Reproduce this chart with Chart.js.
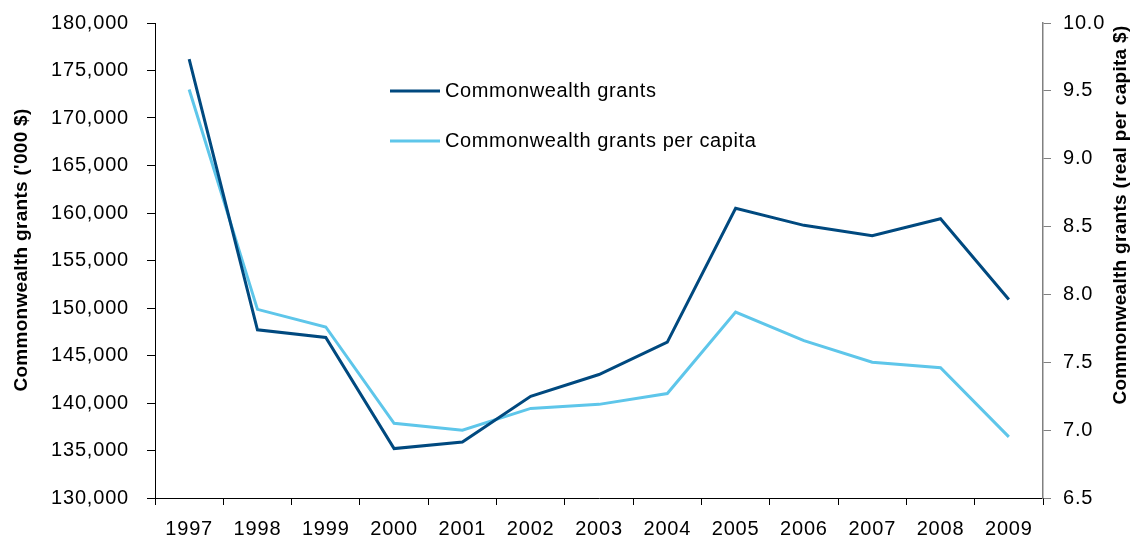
<!DOCTYPE html>
<html>
<head>
<meta charset="utf-8">
<script src="https://cdn.jsdelivr.net/npm/chart.js@4"></script>
<style>
  body { margin: 0; background: #fff; }
  #wrap { width: 1147px; height: 543px; position: relative; }
</style>
</head>
<body>
<div id="wrap"><canvas id="grantsChart"></canvas></div>
<script>
const years = ['1997', '1998', '1999', '2000', '2001', '2002', '2003', '2004', '2005', '2006', '2007', '2008', '2009']
// '000 $
const grants = [176200, 147700, 146900, 135200, 135900, 140700, 143000, 146400, 160500, 158700, 157600, 159400, 150900]
// real per capita $
const grantsPerCapita = [9.51, 7.89, 7.76, 7.05, 7.00, 7.16, 7.19, 7.27, 7.87, 7.66, 7.50, 7.46, 6.95]

const seriesNames = ['Commonwealth grants', 'Commonwealth grants per capita']
const leftTitle = "Commonwealth grants ('000 $)"
const rightTitle = 'Commonwealth grants (real per capita $)'

const darkBlue = '#00497f'
const lightBlue = '#5ec6ea'
const fontFamily = '"Liberation Sans", Arial, sans-serif'

// text in this chart is a touch wider than plain Arial
// (set every draw, the canvas state gets reset on resize)
const spacing = {
    id: 'spacing',
    beforeDraw(chart) {
        chart.ctx.letterSpacing = '0.8px'
    }
}

// legend sits inside the plot area
const innerLegend = {
    id: 'innerLegend',
    afterDatasetsDraw(chart) {
        const ctx = chart.ctx
        const colors = [darkBlue, lightBlue]
        ctx.save()
        ctx.font = '20px ' + fontFamily
        ctx.letterSpacing = '0.6px'
        ctx.textBaseline = 'middle'
        ctx.fillStyle = '#000'
        seriesNames.forEach((name, i) => {
            const y = 91 + i * 50
            ctx.strokeStyle = colors[i]
            ctx.lineWidth = 3
            ctx.beginPath()
            ctx.moveTo(390, y)
            ctx.lineTo(440, y)
            ctx.stroke()
            ctx.fillText(name, 445, y)
        })
        ctx.restore()
    }
}

// both axis titles read bottom to top
const axisTitles = {
    id: 'axisTitles',
    afterDraw(chart) {
        const ctx = chart.ctx
        ctx.save()
        ctx.font = 'bold 19px ' + fontFamily
        ctx.letterSpacing = '0.3px'
        ctx.fillStyle = '#000'
        ctx.textAlign = 'center'
        ctx.textBaseline = 'middle'

        ctx.save()
        ctx.translate(22, 250)
        ctx.rotate(-Math.PI / 2)
        ctx.fillText(leftTitle, 0, 0)
        ctx.restore()

        ctx.save()
        ctx.translate(1121, 215)
        ctx.rotate(-Math.PI / 2)
        ctx.fillText(rightTitle, 0, 0)
        ctx.restore()

        ctx.restore()
    }
}

const tickFont = { family: fontFamily, size: 20 }

// fixed widths for the value axes, and no extra room for their end labels
const fixWidth = (w) => (scale) => {
    scale.width = w
    scale.paddingTop = 0
    scale.paddingBottom = 0
}

new Chart(document.querySelector('#grantsChart'), {
    type: 'line',
    data: {
        labels: years,
        datasets: [{
            label: seriesNames[0],
            data: grants,
            yAxisID: 'y',
            borderColor: darkBlue,
            borderWidth: 3,
            pointRadius: 0,
            tension: 0,
        }, {
            label: seriesNames[1],
            data: grantsPerCapita,
            yAxisID: 'y1',
            borderColor: lightBlue,
            borderWidth: 3,
            pointRadius: 0,
            tension: 0,
        }]
    },
    options: {
        responsive: true,
        maintainAspectRatio: false,
        animation: false,
        layout: { padding: { top: 23, left: 0, right: 0, bottom: 0 } },
        plugins: {
            legend: { display: false },
            tooltip: { enabled: false },
        },
        scales: {
            x: {
                offset: true,
                grid: { offset: true, drawOnChartArea: false, tickLength: 7, color: '#000' },
                border: { color: '#000', width: 1 },
                ticks: { color: '#000', font: tickFont, padding: 12, maxRotation: 0 },
                afterFit: (scale) => { scale.height = 45 },
            },
            y: {
                position: 'left',
                min: 130000,
                max: 180000,
                grid: { drawOnChartArea: false, tickLength: 8, color: '#000' },
                border: { color: '#000', width: 1 },
                ticks: {
                    stepSize: 5000,
                    color: '#000',
                    font: tickFont,
                    padding: 18,
                    callback: (v) => v.toLocaleString('en-US'),
                },
                afterFit: fixWidth(155),
            },
            y1: {
                position: 'right',
                min: 6.5,
                max: 10,
                grid: { drawOnChartArea: false, tickLength: 8, color: '#808080' },
                border: { color: '#808080', width: 1.5 },
                ticks: {
                    stepSize: 0.5,
                    color: '#000',
                    font: tickFont,
                    padding: 12,
                    callback: (v) => v.toFixed(1),
                },
                afterFit: fixWidth(104),
            }
        }
    },
    plugins: [spacing, innerLegend, axisTitles]
})
</script>
</body>
</html>
